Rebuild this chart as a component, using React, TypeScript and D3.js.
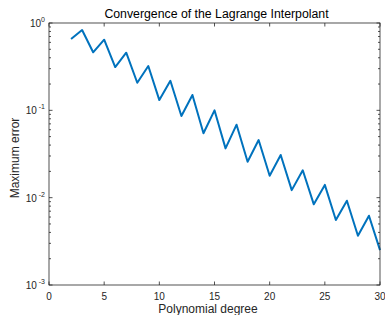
import React, {useEffect, useRef} from 'react';
import * as d3 from 'd3';

// polynomial degree vs. max interpolation error
const degrees = [2, 3, 4, 5, 6, 7, 8, 9, 10, 11, 12, 13, 14, 15, 16, 17, 18, 19, 20, 21, 22, 23, 24, 25, 26, 27, 28, 29, 30];
const maxError = [0.656, 0.831, 0.462, 0.644, 0.313, 0.457, 0.207, 0.322, 0.131, 0.218, 0.0861, 0.150, 0.0546, 0.100,
  0.0367, 0.0685, 0.0258, 0.0457, 0.0178, 0.0308, 0.0122, 0.0206, 0.00839, 0.0140, 0.00555, 0.00923, 0.00367, 0.00621, 0.00251];
const xTicks = [0, 5, 10, 15, 20, 25, 30];
const yDecades = [0, -1, -2, -3];

const W = 385, H = 315;
const left = 49, right = 380, top = 23, bottom = 285;
const axisColor = '#262626';
const font = 'Liberation Sans, Arial, sans-serif';

const App: React.FC = () => {
  const ref = useRef<SVGSVGElement>(null);

  useEffect(() => {
    const svg = d3.select(ref.current);
    svg.selectAll('*').remove();

    const x = d3.scaleLinear([0, 30], [left, right]);
    const y = d3.scaleLog([1e-3, 1], [bottom, top]);

    // Line
    const line = d3.line<number>()
      .x((_, i) => x(degrees[i]))
      .y(d => y(d));
    svg.append('path')
      .datum(maxError)
      .attr('fill', 'none')
      .attr('stroke', '#0072BD')
      .attr('stroke-width', 2)
      .attr('stroke-linejoin', 'round')
      .attr('d', line);

    // Box
    svg.append('rect')
      .attr('x', left).attr('y', top)
      .attr('width', right - left).attr('height', bottom - top)
      .attr('fill', 'none')
      .attr('stroke', axisColor)
      .attr('stroke-width', 0.8);

    // x ticks (inward, bottom and top)
    const g = svg.append('g').attr('stroke', axisColor).attr('stroke-width', 0.8);
    xTicks.forEach(t => {
      g.append('line').attr('x1', x(t)).attr('x2', x(t)).attr('y1', bottom).attr('y2', bottom - 3.5);
      g.append('line').attr('x1', x(t)).attr('x2', x(t)).attr('y1', top).attr('y2', top + 3.5);
    });

    // y ticks: majors at decades, minors at 2..9
    const minors: number[] = [];
    for (let e = -3; e < 0; e++) for (let k = 2; k <= 9; k++) minors.push(k * Math.pow(10, e));
    yDecades.forEach(e => {
      const yy = y(Math.pow(10, e));
      g.append('line').attr('x1', left).attr('x2', left + 3.5).attr('y1', yy).attr('y2', yy);
      g.append('line').attr('x1', right).attr('x2', right - 3.5).attr('y1', yy).attr('y2', yy);
    });
    minors.forEach(v => {
      const yy = y(v);
      g.append('line').attr('x1', left).attr('x2', left + 2).attr('y1', yy).attr('y2', yy);
      g.append('line').attr('x1', right).attr('x2', right - 2).attr('y1', yy).attr('y2', yy);
    });

    // x tick labels
    svg.append('g').selectAll('text').data(xTicks).join('text')
      .attr('x', d => x(d))
      .attr('y', bottom + 15)
      .attr('text-anchor', 'middle')
      .attr('font-family', font)
      .attr('font-size', 10)
      .attr('fill', axisColor)
      .text(d => d);

    // y tick labels as 10^e
    yDecades.forEach(e => {
      const t = svg.append('text')
        .attr('x', left - 4)
        .attr('y', y(Math.pow(10, e)) + 4)
        .attr('text-anchor', 'end')
        .attr('font-family', font)
        .attr('font-size', 10)
        .attr('fill', axisColor);
      t.append('tspan').text('10');
      t.append('tspan').attr('dy', -5).attr('font-size', 7).text(e === 0 ? '0' : ` ${e}`);
    });

    // Title and axis labels
    svg.append('text')
      .attr('x', (left + right) / 2 + 2).attr('y', 18)
      .attr('text-anchor', 'middle')
      .attr('font-family', font).attr('font-size', 12.3)
      .attr('fill', '#000')
      .text('Convergence of the Lagrange Interpolant');

    svg.append('text')
      .attr('x', 208).attr('y', 313)
      .attr('text-anchor', 'middle')
      .attr('font-family', font).attr('font-size', 12)
      .attr('fill', axisColor)
      .text('Polynomial degree');

    svg.append('text')
      .attr('transform', `translate(18.5,158) rotate(-90)`)
      .attr('text-anchor', 'middle')
      .attr('font-family', font).attr('font-size', 12)
      .attr('fill', axisColor)
      .text('Maximum error');
  }, []);

  return <svg ref={ref} width={W} height={H}
              style={{position: 'absolute', left: 0, top: 0, background: '#fff'}}/>;
};

export default App;
